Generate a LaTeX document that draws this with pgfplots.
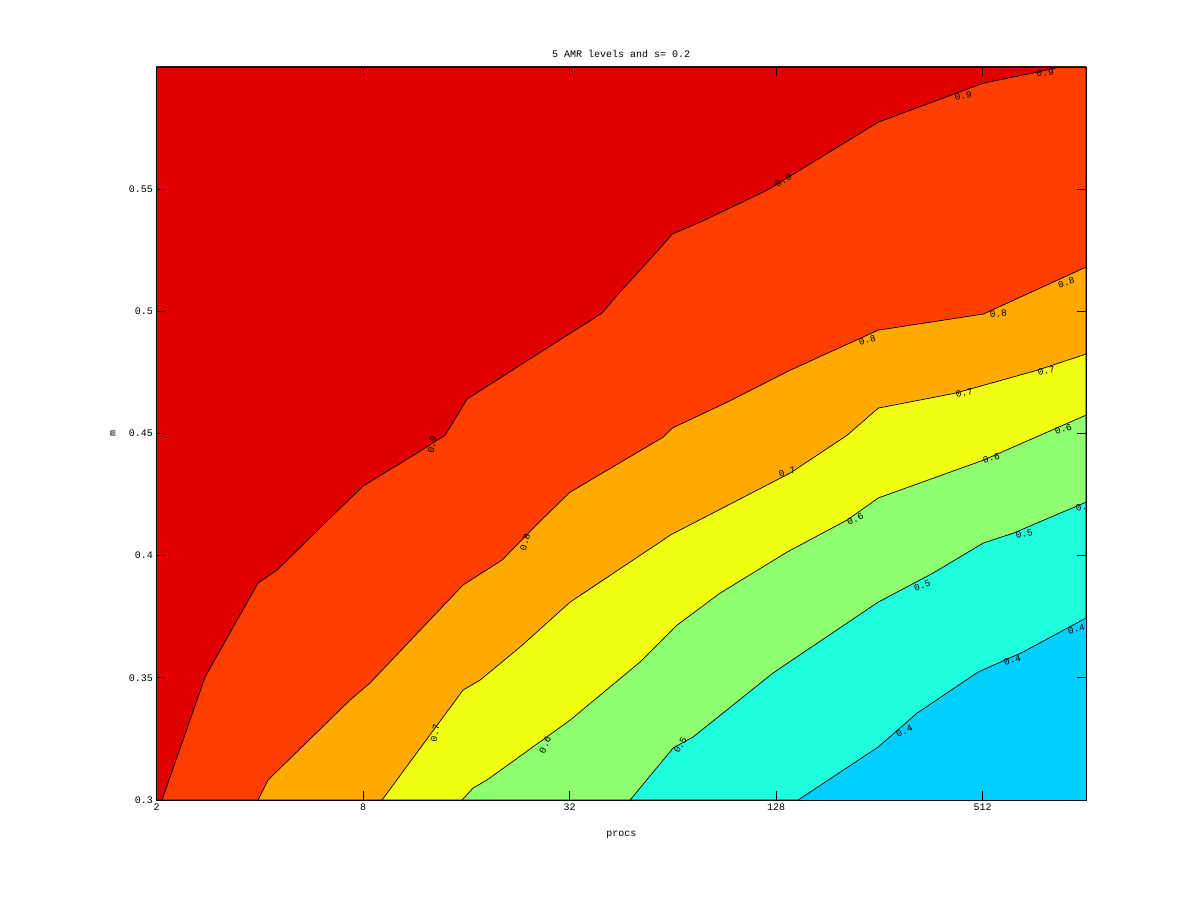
\documentclass[border=0pt]{standalone}
\usepackage{fontspec}
\setmainfont{Liberation Mono}
\usepackage{pgfplots}
\pgfplotsset{compat=1.18}
\definecolor{cA}{HTML}{00CFFF}
\definecolor{cB}{HTML}{1FFFDF}
\definecolor{cC}{HTML}{8FFF6F}
\definecolor{cD}{HTML}{EFFF0F}
\definecolor{cE}{HTML}{FFAA00}
\definecolor{cF}{HTML}{FF3F00}
\definecolor{cG}{HTML}{DF0000}
\begin{document}
\begin{tikzpicture}[x=1pt,y=1pt]
\useasboundingbox (0,0) rectangle (1200,900);
\begin{axis}[
  at={(156.5pt,100pt)}, anchor=south west,
  width=929.5pt, height=733pt, scale only axis,
  xmode=log, log basis x=2,
  xmin=2, xmax=1024, ymin=0.3, ymax=0.6,
  xtick={2,8,32,128,512}, xticklabels={2,8,32,128,512},
  ytick={0.3,0.35,0.4,0.45,0.5,0.55},
  yticklabels={0.3,0.35,0.4,0.45,0.5,0.55},
  minor tick num=0,
  major tick length=9pt,
  tick align=inside,
  tick style={black, line width=0.8pt},
  axis line style={line width=0.8pt},
  axis on top,
  axis background/.style={fill=cA},
  tick label style={font=\fontsize{10}{12}\selectfont},
  title={5 AMR levels and s= 0.2},
  title style={font=\fontsize{10}{12}\selectfont},
  xlabel={procs}, ylabel={m},
  label style={font=\fontsize{10}{12}\selectfont},
  xlabel style={at={(axis description cs:0.5,-0.0477)}, anchor=center},
  ylabel style={at={(axis description cs:-0.0468,0.5)}, anchor=center},
]
% level 0.4
\addplot[fill=cB, draw=black, line width=0.7pt] coordinates {
 (148.4,0.3) (253.9,0.3217) (329.8,0.3356) (496.9,0.3524) (672.0,0.3606) (1024,0.3745)
 (1024,0.6) (2,0.6) (2,0.3)} -- cycle;
% level 0.5
\addplot[fill=cC, draw=black, line width=0.7pt] coordinates {
 (48.04,0.3) (64.11,0.3213) (73.31,0.3258) (125.4,0.3520) (253.9,0.3810) (367.2,0.3929)
 (514.5,0.4052) (628.3,0.4092) (1024,0.4219)
 (1024,0.6) (2,0.6) (2,0.3)} -- cycle;
% level 0.6
\addplot[fill=cD, draw=black, line width=0.7pt] coordinates {
 (15.55,0.3) (16.74,0.3049) (18.39,0.3082) (32.11,0.3327) (51.37,0.3565) (65.86,0.3716)
 (87.89,0.3847) (137.8,0.4015) (206.2,0.4146) (253.9,0.4236) (514.5,0.4391) (1024,0.4575)
 (1024,0.6) (2,0.6) (2,0.3)} -- cycle;
% level 0.7
\addplot[fill=cE, draw=black, line width=0.7pt] coordinates {
 (9.087,0.3) (15.65,0.3450) (17.55,0.3491) (22.96,0.3626) (32.11,0.3810) (59.96,0.4064)
 (62.83,0.4084) (140.6,0.4338) (206.2,0.4493) (253.9,0.4604) (425.8,0.4665) (738.2,0.4759)
 (1024,0.4825)
 (1024,0.6) (2,0.6) (2,0.3)} -- cycle;
% level 0.8
\addplot[fill=cF, draw=black, line width=0.7pt] coordinates {
 (3.953,0.3) (4.228,0.3082) (7.332,0.3409) (8.385,0.3479) (15.65,0.3880) (20.34,0.3982)
 (25.90,0.4133) (32.11,0.4260) (59.96,0.4485) (63.68,0.4522) (92.11,0.4628) (140.6,0.4759)
 (253.9,0.4923) (514.5,0.4989) (1024,0.5181)
 (1024,0.6) (2,0.6) (2,0.3)} -- cycle;
% level 0.9
\addplot[fill=cG, draw=black, line width=0.7pt] coordinates {
 (2.0754,0.3) (2.770,0.3503) (3.953,0.3888) (4.491,0.3941) (6.283,0.4142) (8.0,0.4285)
 (11.50,0.4420) (13.87,0.4493) (16.08,0.4641) (39.80,0.4993) (44.02,0.5066) (57.97,0.5250)
 (63.68,0.5316) (76.84,0.5365) (120.5,0.5496) (253.9,0.5774) (514.5,0.5934) (738.2,0.5979)
 (861.5,0.6)
 (2,0.6) (2,0.3)} -- cycle;
% contour labels
\begin{scope}[every node/.style={font=\fontsize{9.5}{11}\selectfont, inner sep=0pt}]
\node[rotate=80] at (axis cs:12.71,0.4453) {0.9};
\node[rotate=30] at (axis cs:134.2,0.5537) {0.9};
\node[rotate=10] at (axis cs:449.1,0.5881) {0.9};
\node[rotate=5]  at (axis cs:778.9,0.5975) {0.9};
\node[rotate=75] at (axis cs:23.74,0.4056) {0.8};
\node[rotate=15] at (axis cs:235.8,0.4882) {0.8};
\node[rotate=5]  at (axis cs:568.2,0.4989) {0.8};
\node[rotate=20] at (axis cs:896.8,0.5119) {0.8};
\node[rotate=80] at (axis cs:12.97,0.3274) {0.7};
\node[rotate=20] at (axis cs:137.8,0.4342) {0.7};
\node[rotate=10] at (axis cs:452.1,0.4665) {0.7};
\node[rotate=10] at (axis cs:784.2,0.4755) {0.7};
\node[rotate=65] at (axis cs:27.15,0.3225) {0.6};
\node[rotate=25] at (axis cs:217.6,0.4150) {0.6};
\node[rotate=15] at (axis cs:542.1,0.4399) {0.6};
\node[rotate=15] at (axis cs:879.0,0.4518) {0.6};
\node[rotate=60] at (axis cs:67.20,0.3225) {0.5};
\node[rotate=20] at (axis cs:341.1,0.3876) {0.5};
\node[rotate=10] at (axis cs:676.5,0.4088) {0.5};
\node[rotate=15] at (axis cs:992.0,0.4199) {0.};
\node[rotate=25] at (axis cs:302.3,0.3282) {0.4};
\node[rotate=15] at (axis cs:624.1,0.3573) {0.4};
\node[rotate=15] at (axis cs:959.3,0.3700) {0.4};
\end{scope}
\end{axis}
\end{tikzpicture}
\end{document}
